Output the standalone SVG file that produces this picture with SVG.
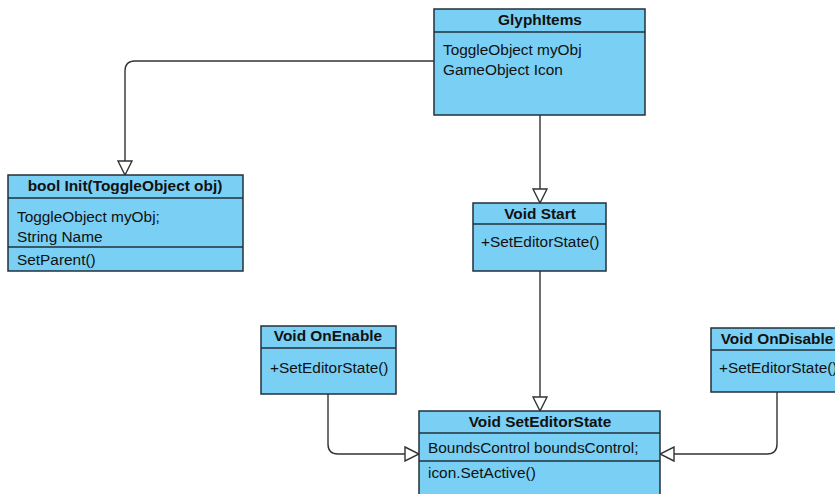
<svg xmlns="http://www.w3.org/2000/svg" width="835" height="494" viewBox="0 0 835 494">
  <style>
    .box { fill: #7acff4; stroke: #22303a; stroke-width: 1.5; }
    .div { stroke: #22303a; stroke-width: 1.5; }
    .t { font-family: "Liberation Sans", Arial, sans-serif; font-size: 15.4px; fill: #111; }
    .h { font-weight: bold; text-anchor: middle; }
    .edge { fill: none; stroke: #333; stroke-width: 1.4; }
  </style>
  <defs>
    <marker id="tri" viewBox="0 0 16 16" refX="15" refY="8" markerWidth="16" markerHeight="16" markerUnits="userSpaceOnUse" orient="auto">
      <path d="M1,1 L15,8 L1,15 Z" fill="#fff" stroke="#333" stroke-width="1.4"/>
    </marker>
  </defs>
  <rect width="835" height="494" fill="#fff"/>

  <g id="connectors">
    <path class="edge" d="M434,61 H135 Q125,61 125,71 V175" marker-end="url(#tri)"/>
    <path class="edge" d="M540,115 V203" marker-end="url(#tri)"/>
    <path class="edge" d="M540,271 V411" marker-end="url(#tri)"/>
    <path class="edge" d="M328,394 V444 Q328,454 338,454 H419" marker-end="url(#tri)"/>
    <path class="edge" d="M777,392 V444 Q777,454 767,454 H660" marker-end="url(#tri)"/>
  </g>

  <g id="glyph-items">
    <rect class="box" x="434" y="9" width="211" height="106"/>
    <line class="div" x1="434" y1="32" x2="645" y2="32"/>
    <text class="t h" x="540" y="25">GlyphItems</text>
    <text class="t" x="443" y="55">ToggleObject myObj</text>
    <text class="t" x="443" y="75">GameObject Icon</text>
  </g>

  <g id="init">
    <rect class="box" x="8" y="175" width="235" height="96"/>
    <line class="div" x1="8" y1="198" x2="243" y2="198"/>
    <line class="div" x1="8" y1="247" x2="243" y2="247"/>
    <text class="t h" x="125" y="191">bool Init(ToggleObject obj)</text>
    <text class="t" x="17" y="222">ToggleObject myObj;</text>
    <text class="t" x="17" y="242">String Name</text>
    <text class="t" x="17" y="265">SetParent()</text>
  </g>

  <g id="start">
    <rect class="box" x="473" y="203" width="133" height="68"/>
    <line class="div" x1="473" y1="224" x2="606" y2="224"/>
    <text class="t h" x="540" y="219">Void Start</text>
    <text class="t" x="481" y="247">+SetEditorState()</text>
  </g>

  <g id="on-enable">
    <rect class="box" x="261" y="326" width="135" height="68"/>
    <line class="div" x1="261" y1="348" x2="396" y2="348"/>
    <text class="t h" x="328" y="341">Void OnEnable</text>
    <text class="t" x="270" y="373">+SetEditorState()</text>
  </g>

  <g id="on-disable">
    <rect class="box" x="711" y="328" width="140" height="64"/>
    <line class="div" x1="711" y1="350" x2="851" y2="350"/>
    <text class="t h" x="777" y="344">Void OnDisable</text>
    <text class="t" x="719" y="373">+SetEditorState()</text>
  </g>

  <g id="set-editor-state">
    <rect class="box" x="419" y="411" width="241" height="100"/>
    <line class="div" x1="419" y1="433" x2="660" y2="433"/>
    <line class="div" x1="419" y1="461" x2="660" y2="461"/>
    <text class="t h" x="540" y="427">Void SetEditorState</text>
    <text class="t" x="428" y="453">BoundsControl boundsControl;</text>
    <text class="t" x="428" y="478">icon.SetActive()</text>
  </g>
</svg>
